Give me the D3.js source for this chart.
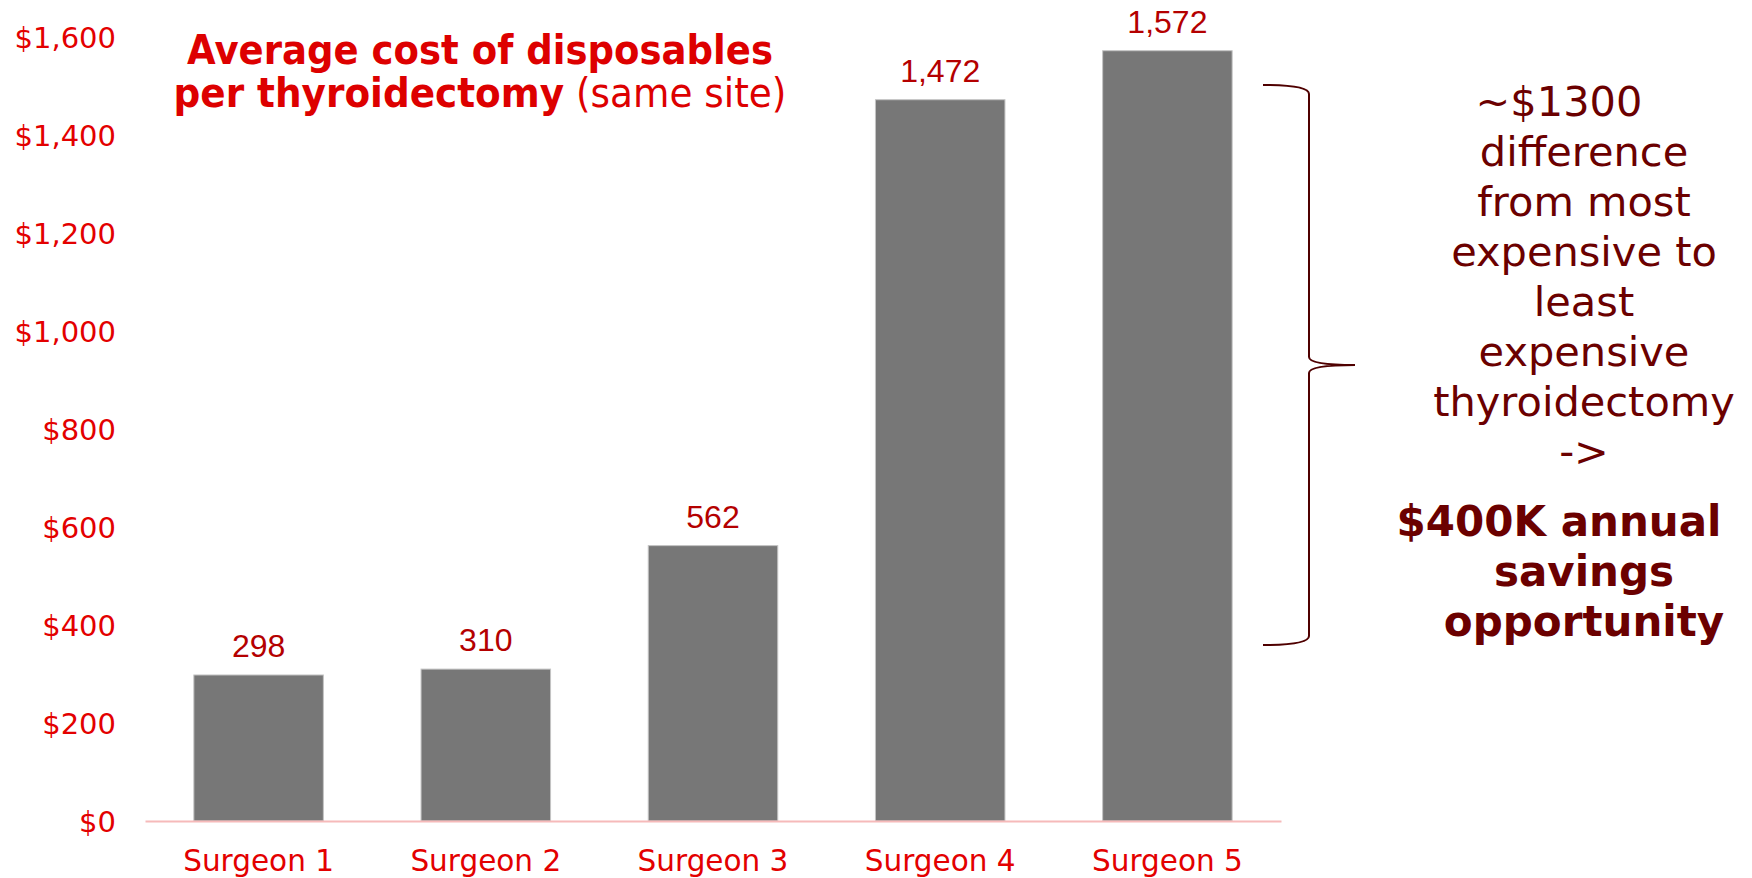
<!DOCTYPE html>
<html>
<head>
<meta charset="utf-8">
<script src="https://cdn.jsdelivr.net/npm/d3@7"></script>
<style>
  html, body { margin: 0; padding: 0; background: #ffffff; }
  svg { display: block; }
</style>
</head>
<body>
<svg id="chart" width="1752" height="878"></svg>
<script>
// Average disposables cost per thyroidectomy, by surgeon
const surgeons = ["Surgeon 1", "Surgeon 2", "Surgeon 3", "Surgeon 4", "Surgeon 5"];
const avgCost = [298, 310, 562, 1472, 1572];
const yTicks = [0, 200, 400, 600, 800, 1000, 1200, 1400, 1600];

const titleLines = [
  [{ t: "Average cost of disposables", bold: true }],
  [{ t: "per thyroidectomy", bold: true }, { t: " (same site)", bold: false }]
];
const noteLines = ["~$1300", "difference", "from most", "expensive to", "least",
                   "expensive", "thyroidectomy", "->"];
const noteBoldLines = ["$400K annual", "savings", "opportunity"];

const svg = d3.select("#chart");
const W = 1752, H = 878;
svg.append("rect").attr("width", W).attr("height", H).attr("fill", "#ffffff");

const plot = { left: 145, right: 1281, top: 37, bottom: 821 };

const x = d3.scaleBand()
  .domain(surgeons)
  .range([plot.left, plot.right])
  .paddingInner(0.43)
  .paddingOuter(0.215);

const y = d3.scaleLinear()
  .domain([0, 1600])
  .range([plot.bottom, plot.top]);

const fmtDollar = d => "$" + d3.format(",")(d);

// y axis labels (no axis line, no ticks)
const yAxis = d3.axisLeft(y).tickValues(yTicks).tickFormat(fmtDollar).tickSize(0).tickPadding(0);
const gy = svg.append("g").attr("transform", "translate(116,0)").call(yAxis);
gy.select(".domain").remove();
gy.selectAll("text")
  .attr("fill", "#e30000")
  .attr("font-family", "'DejaVu Sans', Verdana, sans-serif")
  .attr("font-size", 29)
  .attr("dy", "0.36em");

// bars
svg.append("g").selectAll("rect")
  .data(avgCost)
  .join("rect")
  .attr("x", (d, i) => x(surgeons[i]))
  .attr("y", d => y(d))
  .attr("width", x.bandwidth())
  .attr("height", d => y(0) - y(d))
  .attr("fill", "#777777")
  .attr("stroke", "#c4c4c4")
  .attr("stroke-width", 1);

// x axis baseline and category labels
const xAxis = d3.axisBottom(x).tickSize(0).tickPadding(0);
const gx = svg.append("g").attr("transform", `translate(0,${plot.bottom})`).call(xAxis);
gx.select(".domain")
  .attr("stroke", "#f6baba")
  .attr("stroke-width", 2);
gx.selectAll("text")
  .attr("fill", "#e30000")
  .attr("font-family", "'DejaVu Sans', Verdana, sans-serif")
  .attr("font-size", 29.5)
  .attr("y", 50)
  .attr("dy", 0);

// value labels
svg.append("g").selectAll("text")
  .data(avgCost)
  .join("text")
  .attr("x", (d, i) => x(surgeons[i]) + x.bandwidth() / 2)
  .attr("y", d => y(d) - 18)
  .attr("text-anchor", "middle")
  .attr("fill", "#b40000")
  .attr("font-family", "'Liberation Sans', Arial, sans-serif")
  .attr("font-size", 32)
  .text(d => d3.format(",")(d));

// title, narrowed to a condensed bold look
const titleCx = 480;
const titleBaselines = [64, 107];
const titleWidths = [586, 613];
titleLines.forEach((parts, li) => {
  const t = svg.append("text")
    .attr("x", titleCx)
    .attr("y", titleBaselines[li])
    .attr("text-anchor", "middle")
    .attr("fill", "#dd0000")
    .attr("font-family", "'DejaVu Sans', Verdana, sans-serif")
    .attr("font-size", 41);
  parts.forEach(p => {
    t.append("tspan")
      .attr("font-weight", p.bold ? "bold" : "normal")
      .text(p.t);
  });
  const natural = t.node().getComputedTextLength();
  const sx = titleWidths[li] / natural;
  t.attr("transform", `translate(${titleCx},0) scale(${sx},1) translate(${-titleCx},0)`);
});

// curly brace spanning the spread between cheapest and most expensive
const bx0 = 1263, bx1 = 1309, bxTip = 1355;
const bTop = 85, bMid = 365, bBot = 645;
const brace = d3.path();
brace.moveTo(bx0, bTop);
brace.bezierCurveTo(bx0 + 25, bTop, bx1, bTop + 2, bx1, bTop + 9);
brace.lineTo(bx1, bMid - 8);
brace.bezierCurveTo(bx1, bMid - 2, bx1 + 20, bMid, bxTip, bMid);
brace.bezierCurveTo(bx1 + 20, bMid, bx1, bMid + 2, bx1, bMid + 8);
brace.lineTo(bx1, bBot - 9);
brace.bezierCurveTo(bx1, bBot - 2, bx0 + 25, bBot, bx0, bBot);
svg.append("path")
  .attr("d", brace.toString())
  .attr("fill", "none")
  .attr("stroke", "#4f0000")
  .attr("stroke-width", 2);

// annotation text; the first line of each paragraph sits a little left,
// as if it carried a trailing space
const noteCx = 1584;
const leadShift = 25;
const note = svg.append("g")
  .attr("fill", "#6b0000")
  .attr("font-family", "'DejaVu Sans', Verdana, sans-serif")
  .attr("text-anchor", "middle");
note.selectAll("text.reg")
  .data(noteLines)
  .join("text")
  .attr("class", "reg")
  .attr("x", (d, i) => noteCx - (i === 0 ? leadShift : 0))
  .attr("y", (d, i) => 116 + i * 50)
  .attr("font-size", 41.5)
  .text(d => d);
note.selectAll("text.bold")
  .data(noteBoldLines)
  .join("text")
  .attr("class", "bold")
  .attr("x", (d, i) => noteCx - (i === 0 ? leadShift : 0))
  .attr("y", (d, i) => 536 + i * 50)
  .attr("font-size", 42)
  .attr("font-weight", "bold")
  .text(d => d);
</script>
</body>
</html>
